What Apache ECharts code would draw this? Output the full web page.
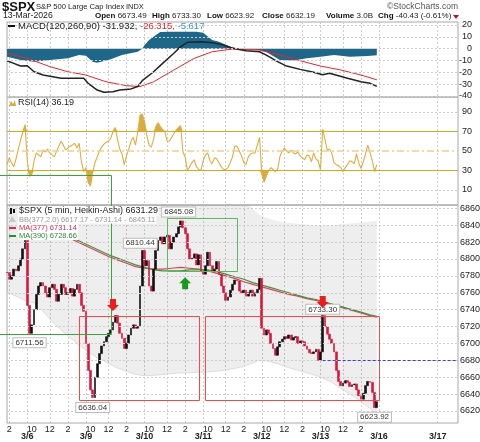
<!DOCTYPE html>
<html>
<head>
<meta charset="utf-8">
<title>$SPX 5 min Heikin-Ashi</title>
<script src="https://cdn.jsdelivr.net/npm/echarts@6.0.0/dist/echarts.min.js"></script>
<style>
  html, body { margin: 0; padding: 0; background: #fff; }
  #chart { width: 480px; height: 442px; }
</style>
</head>
<body>
<div id="chart"></div>
<script>
// one slot = 15 minutes of the 5-min chart, slot 0 = 3/5 13:45
const days = ["3/5", "3/6", "3/9", "3/10", "3/11", "3/12", "3/13", "3/16", "3/17"];
const firstSlot = 17;
const slotsPerDay = 26;
const totalSlots = 201;
const lastDataDay = 6;

// price closes, slots 0..164
const closes = [
  6784, 6776, 6780, 6788, 6786, 6792, 6800, 6812, 6822,
  6745, 6712, 6722, 6740, 6758, 6768, 6772, 6768, 6760, 6755, 6766, 6770, 6764, 6750, 6758, 6770, 6766, 6758, 6760, 6765, 6756, 6764, 6770, 6760, 6745, 6738,
  6700, 6668, 6645, 6636, 6660, 6676, 6688, 6697, 6702, 6708, 6712, 6716, 6725, 6733, 6724, 6712, 6706, 6694, 6700, 6710, 6718, 6722, 6718, 6720, 6768, 6810,
  6792, 6798, 6768, 6762, 6788, 6810, 6822, 6826, 6818, 6826, 6828, 6812, 6820, 6826, 6830, 6838, 6845, 6837, 6830, 6812, 6800, 6801, 6806, 6793, 6805, 6785,
  6782, 6792, 6808, 6792, 6785, 6788, 6797, 6782, 6768, 6760, 6751, 6755, 6763, 6770, 6775, 6774, 6762, 6760, 6763, 6756, 6760, 6763, 6756, 6760, 6764, 6777,
  6718, 6710, 6716, 6712, 6700, 6694, 6686, 6696, 6702, 6705, 6708, 6706, 6710, 6704, 6707, 6708, 6700, 6703, 6702, 6697, 6693, 6689, 6688, 6690, 6693, 6680,
  6690, 6733, 6720, 6711, 6705, 6700, 6690, 6668, 6655, 6650, 6653, 6656, 6654, 6649, 6651, 6652, 6645, 6638, 6634, 6641, 6650, 6655, 6654, 6642, 6624, 6631
];

// moving averages, sampled
const maSlots = [29, 33, 37, 41, 45, 49, 53, 57, 61, 65, 69, 73, 77, 81, 85, 89, 93, 97, 101, 105, 109, 113, 117, 121, 125, 129, 133, 137, 141, 145, 149, 153, 157, 161, 164];
const ma377 = [6823, 6818, 6813, 6808, 6803, 6799, 6795, 6791, 6789, 6788, 6788, 6789, 6790, 6789, 6788, 6786, 6783, 6780, 6777, 6773, 6770, 6767, 6764, 6761, 6758, 6756, 6753, 6751, 6748, 6745, 6742, 6739, 6736, 6733, 6731];
const ma390 = [6825, 6820, 6815, 6810, 6805, 6801, 6797, 6793, 6790, 6787, 6786, 6786, 6786, 6787, 6787, 6787, 6785, 6782, 6779, 6776, 6772, 6769, 6766, 6763, 6760, 6757, 6754, 6752, 6749, 6746, 6743, 6740, 6737, 6734, 6732];

// Bollinger band (377, 2.0), every 4th slot from 0
const bbLower = [6761, 6756, 6751, 6748, 6738, 6726, 6716, 6707, 6698, 6690, 6683, 6678, 6672, 6668, 6664, 6662, 6662, 6663, 6664, 6665, 6665, 6666, 6666, 6667, 6668, 6670, 6672, 6676, 6680, 6679, 6676, 6672, 6669, 6666, 6663, 6659, 6654, 6647, 6640, 6633, 6625, 6617];
const bbUpper = [6905, 6912, 6920, 6925, 6930, 6938, 6942, 6942, 6940, 6938, 6934, 6930, 6926, 6922, 6918, 6914, 6912, 6912, 6912, 6912, 6910, 6906, 6900, 6892, 6884, 6876, 6868, 6862, 6852, 6848, 6845, 6843, 6842, 6841, 6840, 6840, 6840, 6841, 6842, 6843, 6844, 6845];

// MACD(120,260,90)
const macdSlots = [0, 3, 6, 9, 12, 16, 24, 34, 36, 40, 43, 47, 50, 55, 58, 60, 65, 69, 74, 77, 80, 86, 91, 96, 100, 106, 112, 115, 120, 124, 130, 136, 140, 143, 151, 157, 161, 164];
const macdLine = [-10.2, -12.4, -14.7, -14.4, -19.5, -22.3, -25, -25, -29.3, -35, -36.9, -36.4, -35, -34, -32, -27, -19.5, -12.4, -3.9, 1.7, 5.4, 5.9, 5.1, 3.1, 0.3, -1.7, -2.6, -5.4, -11, -14.7, -17.5, -20, -22, -20.8, -25, -28, -29.3, -31.9];
const signalSlots = [0, 9, 19, 27, 35, 44, 53, 59, 65, 74, 83, 91, 100, 112, 121, 130, 139, 148, 157, 164];
const signalLine = [-3.9, -8.2, -15.2, -19.5, -22.3, -28, -31.3, -32, -28, -18, -8.2, -2.6, -0.3, -1.1, -5.4, -10.2, -14.7, -18, -22.3, -26.3];
const histSlots = [0, 6, 12, 19, 27, 32, 35, 38, 40, 46, 51, 58, 60, 61, 63, 66, 68, 72, 84, 87, 91, 94, 99, 103, 112, 115, 121, 127, 133, 139, 145, 152, 160, 164];
const histValues = [-6.8, -9.6, -11, -9.6, -8.2, -5.4, -6, -11, -11.9, -9, -5.4, -2.6, 0, 3, 7.3, 11.5, 14, 14.3, 14.3, 13.5, 7.3, 5.9, 1.7, 0, -1.3, -2.8, -9.6, -10, -8.2, -6.8, -5.4, -6.8, -6.3, -5.6];

// RSI(14), slots 0..164
const rsi = [
  36, 43, 38, 34, 42, 52, 61, 69, 77, 40,
  24, 26, 40, 48, 46, 44, 51, 49, 52, 48,
  46, 44, 50, 55, 60, 56, 51, 53, 55, 56,
  58, 53, 58, 39, 29, 33, 18, 14, 28, 38,
  44, 50, 54, 57, 59, 60, 63, 70, 74, 62,
  52, 47, 36, 45, 52, 60, 64, 56, 70, 87,
  88, 80, 66, 56, 54, 62, 75, 79, 75, 72,
  70, 60, 60, 64, 68, 71, 74, 76, 49, 44,
  30, 34, 38, 41, 34, 31, 30, 40, 46, 48,
  40, 37, 43, 42, 38, 34, 31, 31, 33, 38,
  44, 55, 55, 50, 45, 38, 36, 44, 47, 48,
  48, 56, 64, 26, 18, 24, 30, 33, 31, 29,
  31, 44, 50, 53, 50, 48, 51, 48, 47, 49,
  45, 43, 41, 46, 45, 39, 48, 42, 40, 31,
  72, 62, 51, 52, 48, 38, 36, 35, 33, 29,
  33, 36, 40, 39, 37, 47, 38, 32, 39, 47,
  56, 48, 40, 29, 36
];

// tick labels
const macdTicks = [20, 10, 0, -10, -20, -30, -40];
const rsiTicks = [90, 70, 50, 30, 10];
const priceTicks = [6860, 6840, 6820, 6800, 6780, 6760, 6740, 6720, 6700, 6680, 6660, 6640, 6620];

// ---- helpers ----
const FONT = '"Liberation Sans", Arial, sans-serif';
const GRID_COLOR = '#cdcdcd';
const FRAME = '#a8a8a8';
const UP = '#111111';
const DOWN = '#d8173f';

const slotDay = [], slotPos = [], cats = [];
for (let i = 0; i < totalSlots; i++) {
  const g = i + firstSlot;
  slotDay.push(Math.floor(g / slotsPerDay));
  slotPos.push(g % slotsPerDay);
  cats.push(String(i));
}
const timeText = { 2: '10', 10: '12', 18: '2' };
function isTime(i) { return slotDay[i] <= lastDataDay && timeText[slotPos[i]] !== undefined; }
function isDate(i) { return slotPos[i] === 0; }
function isGrid(i) {
  return slotPos[i] === 0 || (slotDay[i] <= lastDataDay && (slotPos[i] === 10 || slotPos[i] === 18));
}

function xAx(grid, extra) {
  return Object.assign({
    type: 'category', gridIndex: grid, data: cats, boundaryGap: false, position: 'bottom',
    axisLine: { show: false }, axisTick: { show: false }, axisLabel: { show: false },
    splitLine: { show: true, interval: function (i) { return isGrid(i); }, lineStyle: { color: GRID_COLOR, type: [2, 2], width: 1 } }
  }, extra || {});
}
function yAx(grid, min, max, ticks, label) {
  return {
    type: 'value', gridIndex: grid, position: 'right', min: min, max: max, scale: true,
    axisLine: { show: false }, axisTick: { show: false }, splitLine: { show: false },
    axisLabel: Object.assign({
      customValues: ticks, fontSize: 9, color: '#222', fontFamily: FONT,
      formatter: function (v) { return String(v); }
    }, label)
  };
}
function hLines(values, style) {
  return {
    silent: true, symbol: ['none', 'none'], label: { show: false }, animation: false,
    lineStyle: style, data: values.map(function (v) { return { yAxis: v }; })
  };
}
function pairs(xs, ys) { return xs.map(function (x, k) { return [x, ys[k]]; }); }

// derived drawing data
const candles = closes.map(function (c, i) {
  const o = i ? closes[i - 1] : c;
  return [o, c, Math.min(o, c), Math.max(o, c)];
});
const bbSlots = bbLower.map(function (v, k) { return k * 4; });
const bbBand = bbUpper.map(function (v, k) { return v - bbLower[k]; });
const obBase = rsi.map(function () { return 70; });
const obFill = rsi.map(function (v) { return Math.max(v, 70) - 70; });
const osBase = rsi.map(function (v) { return Math.min(v, 30); });
const osFill = rsi.map(function (v) { return 30 - Math.min(v, 30); });

const noLine = { width: 0, opacity: 0 };
const chart = echarts.init(document.getElementById('chart'), null, { renderer: 'canvas' });

const CANDLE = 16;
chart.setOption({
  animation: false,
  backgroundColor: '#ffffff',
  textStyle: { fontFamily: FONT },
  grid: [
    { left: 7, right: 22, top: 22, height: 75, show: true, borderColor: FRAME, borderWidth: 1, outerBoundsMode: 'none' },
    { left: 7, right: 22, top: 97, height: 108, show: true, borderColor: FRAME, borderWidth: 1, outerBoundsMode: 'none' },
    { left: 7, right: 22, top: 205, height: 218, show: true, borderColor: FRAME, borderWidth: 1, outerBoundsMode: 'none' }
  ],
  xAxis: [
    xAx(0),
    xAx(1),
    xAx(2, {
      axisLabel: {
        show: true, interval: function (i) { return isTime(i); }, margin: 2,
        fontSize: 9, color: '#222', fontFamily: FONT,
        formatter: function (v) { return timeText[slotPos[+v]] || ''; }
      }
    }),
    xAx(2, {
      splitLine: { show: false },
      axisLabel: {
        show: true, interval: function (i) { return isDate(i); }, margin: 9,
        fontSize: 9, fontWeight: 'bold', color: '#222', fontFamily: FONT,
        formatter: function (v) { return days[slotDay[+v]]; }
      }
    })
  ],
  yAxis: [
    yAx(0, -40.845, 22.535, macdTicks, { align: 'right', margin: 14 }),
    yAx(1, -5.38, 105.38, rsiTicks, { align: 'right', margin: 14 }),
    yAx(2, 6605.8, 6863.9, priceTicks, { align: 'left', margin: 2 })
  ],
  series: [
    // MACD panel
    { type: 'line', xAxisIndex: 0, yAxisIndex: 0, data: [], z: 1,
      markLine: hLines(macdTicks, { color: GRID_COLOR, type: [2, 2], width: 1 }) },
    { type: 'line', xAxisIndex: 0, yAxisIndex: 0, data: pairs(histSlots, histValues), z: 2,
      symbol: 'none', lineStyle: noLine, areaStyle: { color: '#1f6788', opacity: 1 } },
    { type: 'line', xAxisIndex: 0, yAxisIndex: 0, data: pairs(signalSlots, signalLine), z: 3,
      symbol: 'none', lineStyle: { color: '#e8262a', width: 1 } },
    { type: 'line', xAxisIndex: 0, yAxisIndex: 0, data: pairs(macdSlots, macdLine), z: 3,
      symbol: 'none', lineStyle: { color: '#222', width: 1.5 } },
    // RSI panel
    { type: 'line', xAxisIndex: 1, yAxisIndex: 1, data: [], z: 1,
      markLine: {
        silent: true, symbol: ['none', 'none'], label: { show: false }, animation: false,
        data: [
          { yAxis: 90, lineStyle: { color: GRID_COLOR, type: [2, 2], width: 1 } },
          { yAxis: 10, lineStyle: { color: GRID_COLOR, type: [2, 2], width: 1 } },
          { yAxis: 70, lineStyle: { color: '#e2a51e', type: 'solid', width: 1 } },
          { yAxis: 30, lineStyle: { color: '#e2a51e', type: 'solid', width: 1 } },
          { yAxis: 50, lineStyle: { color: '#f0cf8c', type: [7, 3, 2, 3], width: 1.5 } }
        ]
      } },
    { type: 'line', xAxisIndex: 1, yAxisIndex: 1, stack: 'ob', data: obBase, symbol: 'none', lineStyle: noLine, z: 2 },
    { type: 'line', xAxisIndex: 1, yAxisIndex: 1, stack: 'ob', data: obFill, symbol: 'none', lineStyle: noLine, z: 2,
      areaStyle: { color: '#d6ad42', opacity: 1 } },
    { type: 'line', xAxisIndex: 1, yAxisIndex: 1, stack: 'os', data: osBase, symbol: 'none', lineStyle: noLine, z: 2 },
    { type: 'line', xAxisIndex: 1, yAxisIndex: 1, stack: 'os', data: osFill, symbol: 'none', lineStyle: noLine, z: 2,
      areaStyle: { color: '#d6ad42', opacity: 1 } },
    { type: 'line', xAxisIndex: 1, yAxisIndex: 1, data: rsi, symbol: 'none', z: 3,
      lineStyle: { color: '#e0ad40', width: 1.1 } },
    // price panel: Bollinger band
    { type: 'line', xAxisIndex: 2, yAxisIndex: 2, stack: 'bb', data: pairs(bbSlots, bbLower), symbol: 'none', z: 1,
      lineStyle: { color: '#dddddd', width: 1 } },
    { type: 'line', xAxisIndex: 2, yAxisIndex: 2, stack: 'bb', data: pairs(bbSlots, bbBand), symbol: 'none', z: 1,
      lineStyle: noLine, areaStyle: { color: 'rgba(0,0,0,0.065)', opacity: 1 } },
    { type: 'line', xAxisIndex: 2, yAxisIndex: 2, data: [], z: 1,
      markLine: hLines(priceTicks, { color: GRID_COLOR, type: [2, 2], width: 1 }) },
    { type: 'line', xAxisIndex: 2, yAxisIndex: 2, data: [], z: 1 },
    { type: 'line', xAxisIndex: 2, yAxisIndex: 2, data: pairs(maSlots, ma377), symbol: 'none', z: 2,
      lineStyle: { color: '#e0405e', width: 1.2 } },
    { type: 'line', xAxisIndex: 2, yAxisIndex: 2, data: pairs(maSlots, ma390), symbol: 'none', z: 2,
      lineStyle: { color: '#3a963a', width: 1.2 } },
    { type: 'candlestick', xAxisIndex: 2, yAxisIndex: 2, data: candles, z: 3, barWidth: 2.3,
      itemStyle: { color: UP, color0: DOWN, borderColor: UP, borderColor0: DOWN, borderWidth: 0.6 } }
  ]
});

// ---- text and drawn annotations ----
function txt(x, y, text, o) {
  o = o || {};
  return {
    type: 'text', x: x, y: y, z: o.z || 60, silent: true,
    style: {
      text: text, fill: o.color || '#111', fontSize: o.size || 9, fontWeight: o.weight || 'normal',
      fontFamily: FONT, align: o.align || 'left', verticalAlign: 'middle',
      backgroundColor: o.bg, padding: o.pad, borderColor: o.border, borderWidth: o.border ? 1 : 0,
      rich: o.rich
    }
  };
}
function px(slot, price) { return chart.convertToPixel({ seriesIndex: CANDLE }, [slot, price]); }
function box(s0, p0, s1, p1, color, leftX) {
  const a = px(s0, p0), b = px(s1, p1);
  const x0 = Math.round(leftX !== undefined ? leftX : a[0]) + 0.5, x1 = Math.round(b[0]) + 0.5;
  const y0 = Math.round(a[1]) + 0.5, y1 = Math.round(b[1]) + 0.5;
  return { type: 'rect', z: 40, silent: true, shape: { x: x0, y: y0, width: x1 - x0, height: y1 - y0 },
    style: { fill: 'none', stroke: color, lineWidth: 1 } };
}
function arrow(slot, price, color, down) {
  const p = px(slot, price), s = down ? -1 : 1;
  const x = p[0], y = p[1];
  return { type: 'polygon', z: 70, silent: true,
    shape: { points: [[x, y], [x + 6, y + 6 * s], [x + 3, y + 6 * s], [x + 3, y + 12 * s], [x - 3, y + 12 * s], [x - 3, y + 6 * s], [x - 6, y + 6 * s]] },
    style: { fill: color } };
}
function tag(slot, price, dx, dy) {
  const p = px(slot, price);
  return txt(p[0] + dx, p[1] + dy, price.toFixed(2), { size: 8, color: '#333', align: 'center', bg: '#fff', border: '#bdbdbd', pad: [1, 2, 0, 2], z: 65 });
}

const els = [];
const hdr = { size: 8, color: '#222', rich: { b: { fontWeight: 'bold', fontSize: 8, fill: '#111' } } };
// header
els.push(txt(2, 7, '$SPX', { size: 13, weight: 'bold' }));
els.push(txt(36, 7, 'S&P 500 Large Cap Index', { size: 7.6, color: '#222' }));
els.push(txt(126, 7, 'INDX', { size: 7.4, color: '#222' }));
els.push(txt(458, 7, '\u00a9StockCharts.com', { size: 8.5, color: '#555', align: 'right' }));
els.push(txt(3, 16, '13-Mar-2026', { size: 8.7, color: '#222' }));
els.push(txt(95, 16, '{b|Open} 6673.49', hdr));
els.push(txt(152, 16, '{b|High} 6733.30', hdr));
els.push(txt(207, 16, '{b|Low} 6623.92', hdr));
els.push(txt(262, 16, '{b|Close} 6632.19', hdr));
els.push(txt(326, 16, '{b|Volume} 3.0B', hdr));
els.push(txt(378, 16, '{b|Chg} -40.43 (-0.61%)', hdr));
els.push({ type: 'polygon', z: 60, silent: true, shape: { points: [[453, 15], [459, 15], [456, 19]] }, style: { fill: '#c0102a' } });

// MACD legend
els.push({ type: 'line', z: 60, silent: true, shape: { x1: 8, y1: 26, x2: 15, y2: 26 }, style: { stroke: '#111', lineWidth: 2 } });
els.push(txt(18, 26, '{k|MACD(120,260,90) -31.932,} {r|-26.315,} {u|-5.617}', {
  size: 9.5, rich: { k: { fill: '#222', fontSize: 9.5 }, r: { fill: '#e8262a', fontSize: 9.5 }, u: { fill: '#3b9ad9', fontSize: 9.5 } }
}));

// RSI legend
els.push({ type: 'polygon', z: 60, silent: true, shape: { points: [[9, 106], [11, 101], [13, 104], [15, 100], [16, 106]] }, style: { fill: '#d6ad42' } });
els.push(txt(18, 103, 'RSI(14) 36.19', { size: 9, color: '#222' }));

// price legend
els.push({ type: 'rect', z: 60, silent: true, shape: { x: 10, y: 208, width: 2, height: 6 }, style: { fill: '#111' } });
els.push({ type: 'rect', z: 60, silent: true, shape: { x: 13, y: 209, width: 2, height: 4 }, style: { fill: '#111' } });
els.push(txt(18, 211, '$SPX (5 min, Heikin-Ashi) 6631.29', { size: 9, color: '#222', bg: '#fff', pad: [1, 1, 0, 1] }));
els.push({ type: 'polygon', z: 60, silent: true, shape: { points: [[9, 222], [12, 216], [16, 222]] }, style: { fill: '#c8c8c8' } });
els.push(txt(18, 219.5, 'BB(377,2.0) 6617.17 - 6731.14 - 6845.11', { size: 7.5, color: '#9a9a9a', bg: '#fff', pad: [0, 1] }));
els.push({ type: 'line', z: 60, silent: true, shape: { x1: 9, y1: 228, x2: 16, y2: 228 }, style: { stroke: '#d9284f', lineWidth: 2 } });
els.push(txt(18, 228, 'MA(377) 6731.14', { size: 7.5, color: '#d9284f', bg: '#fff', pad: [0, 1] }));
els.push({ type: 'line', z: 60, silent: true, shape: { x1: 9, y1: 236, x2: 16, y2: 236 }, style: { stroke: '#2e8b2e', lineWidth: 2 } });
els.push(txt(18, 236, 'MA(390) 6728.66', { size: 7.5, color: '#2e8b2e', bg: '#fff', pad: [0, 1] }));

// annotation boxes
els.push(box(0, 6899, 46, 6711.56, '#3aa63a', -5));
els.push(box(71, 6848, 102, 6786, '#5cb85c'));
els.push(box(32, 6733, 85, 6633, '#f04a4a'));
els.push(box(88, 6733, 165, 6633, '#f04a4a'));
const bl = px(140, 6680), br = px(200, 6680);
els.push({ type: 'line', z: 40, silent: true, shape: { x1: bl[0], y1: Math.round(bl[1]) + 0.5, x2: br[0], y2: Math.round(br[1]) + 0.5 },
  style: { stroke: '#3340e0', lineWidth: 1, lineDash: [3, 2] } });

// price tags
els.push(tag(77, 6845.08, -2, -9));
els.push(tag(60, 6810.44, -2, -7));
els.push(tag(10, 6711.56, 0, 9));
els.push(tag(38, 6636.04, 0, 10));
els.push(tag(140, 6733.30, 0, -6));
els.push(tag(163, 6623.92, 0, 9.5));

// arrows
els.push(arrow(47, 6738.5, '#ee1c1c', true));
els.push(arrow(140, 6742, '#ee1c1c', true));
els.push(arrow(79, 6778.5, '#1a9a1a', false));

chart.setOption({ graphic: { elements: els } });
</script>
</body>
</html>
